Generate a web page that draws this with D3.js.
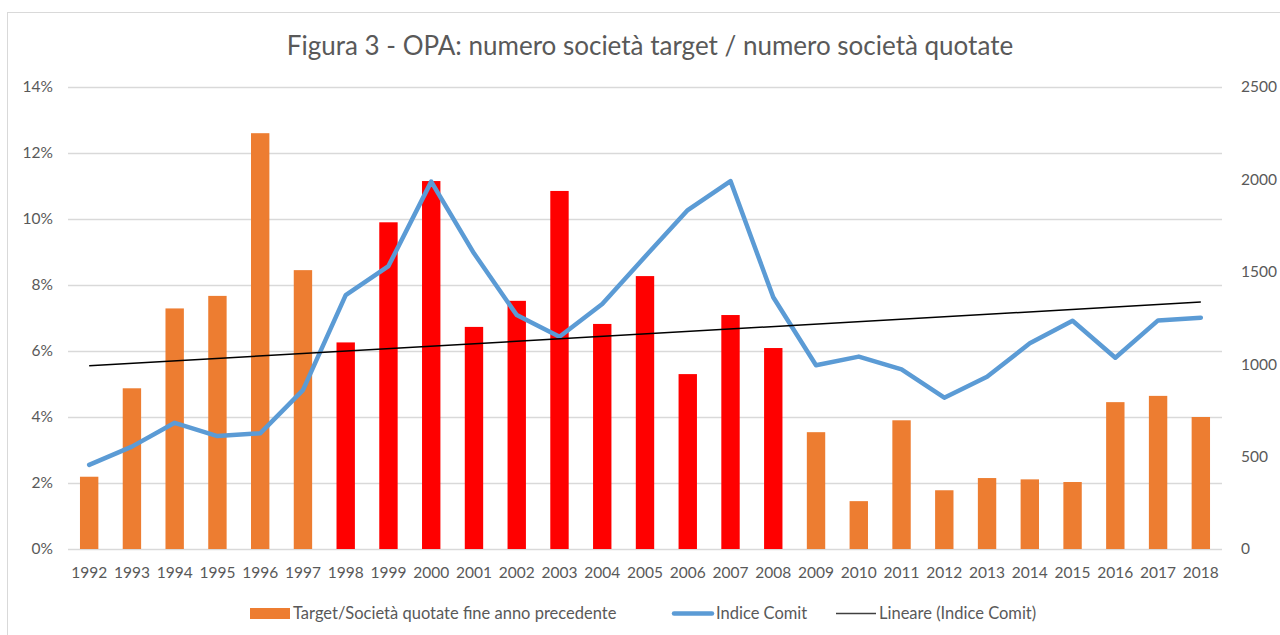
<!DOCTYPE html>
<html>
    <head>
        <meta charset="utf-8" />
        <script src="https://d3js.org/d3.v7.min.js"></script>
        <style>
            body { margin: 0; background: #fff; }
            svg { font-family: Lato, "Open Sans", sans-serif; }
        </style>
    </head>
    <body>
        <svg class="chart" width="1280" height="635"></svg>
        <script>
            const years = ['1992', '1993', '1994', '1995', '1996', '1997', '1998', '1999', '2000',
                '2001', '2002', '2003', '2004', '2005', '2006', '2007', '2008', '2009', '2010',
                '2011', '2012', '2013', '2014', '2015', '2016', '2017', '2018']
            // quota società target (%)
            const targetRatio = [2.19, 4.87, 7.29, 7.67, 12.6, 8.45, 6.26, 9.9, 11.15, 6.73, 7.52,
                10.85, 6.82, 8.27, 5.3, 7.09, 6.09, 3.54, 1.45, 3.9, 1.78, 2.15, 2.11, 2.03, 4.45,
                4.64, 4.0]
            const indiceComit = [455, 554, 683, 611, 626, 860, 1374, 1531, 1988, 1600, 1266, 1149,
                1326, 1582, 1834, 1991, 1362, 994, 1041, 972, 819, 932, 1113, 1235, 1035, 1237, 1252]
            const redYears = ['1998', '1999', '2000', '2001', '2002', '2003', '2004', '2005',
                '2006', '2007', '2008']
            const leftTicks = [0, 2, 4, 6, 8, 10, 12, 14]
            const rightTicks = [0, 500, 1000, 1500, 2000, 2500]

            const svg = d3.select('svg.chart')
            const plotL = 68, plotR = 1222, plotT = 87, plotB = 549

            svg.append('rect')
                .attr('x', 7.5).attr('y', 12.5)
                .attr('width', 1300).attr('height', 700)
                .style('fill', 'none').style('stroke', '#d9d9d9')

            svg.append('text')
                .attr('x', 650).attr('y', 55)
                .attr('text-anchor', 'middle')
                .style('font-size', '26px').style('fill', '#595959')
                .text('Figura 3 - OPA: numero società target / numero società quotate')

            const x = d3.scaleBand().domain(years).range([plotL, plotR]).paddingInner(0.57).paddingOuter(0.28)
            const yL = d3.scaleLinear().domain([0, 14]).range([plotB, plotT])
            const yR = d3.scaleLinear().domain([0, 2500]).range([plotB, plotT])

            // griglia
            svg.append('g').selectAll('line')
                .data(leftTicks)
                .enter()
                .append('line')
                .attr('x1', plotL).attr('x2', plotR)
                .attr('y1', (d) => yL(d) + 0.5).attr('y2', (d) => yL(d) + 0.5)
                .style('stroke', '#d9d9d9').style('stroke-width', '1.3px')

            const axisL = svg.append('g')
                .attr('transform', `translate(${plotL - 15},0)`)
                .call(d3.axisLeft(yL).tickValues(leftTicks).tickFormat((d) => d + '%').tickSize(0))
            const axisR = svg.append('g')
                .attr('transform', `translate(${plotR + 19},0)`)
                .call(d3.axisRight(yR).tickValues(rightTicks).tickFormat(d3.format('d')).tickSize(0))
            const axisB = svg.append('g')
                .attr('transform', `translate(0,${plotB + 15})`)
                .call(d3.axisBottom(x).tickSize(0))
            for (const a of [axisL, axisR, axisB]) {
                a.select('.domain').remove()
                a.selectAll('text').style('font-size', '15.5px').style('fill', '#595959')
                    .style('font-family', 'Lato, "Open Sans", sans-serif')
            }
            axisL.selectAll('text').attr('x', 0)
            axisR.selectAll('text').attr('x', 0)

            // barre
            svg.append('g').selectAll('rect')
                .data(years)
                .enter()
                .append('rect')
                .attr('x', (d) => x(d))
                .attr('width', x.bandwidth())
                .attr('y', (d, i) => yL(targetRatio[i]))
                .attr('height', (d, i) => plotB - yL(targetRatio[i]))
                .style('fill', (d) => redYears.includes(d) ? '#ff0000' : '#ed7d31')

            // linea indice
            const cx = (d) => x(d) + x.bandwidth() / 2
            const line = d3.line().x((d, i) => cx(years[i])).y((d) => yR(d))
            svg.append('path')
                .datum(indiceComit)
                .attr('d', line)
                .style('fill', 'none')
                .style('stroke', '#5b9bd5')
                .style('stroke-width', '4.5px')
                .style('stroke-linejoin', 'round')
                .style('stroke-linecap', 'round')

            // tendenza lineare
            const n = indiceComit.length
            const mx = d3.mean(indiceComit, (d, i) => i + 1)
            const my = d3.mean(indiceComit)
            const slope = d3.sum(indiceComit, (d, i) => (i + 1 - mx) * (d - my)) /
                d3.sum(indiceComit, (d, i) => (i + 1 - mx) ** 2)
            const icpt = my - slope * mx
            svg.append('line')
                .attr('x1', cx(years[0])).attr('y1', yR(icpt + slope))
                .attr('x2', cx(years[n - 1])).attr('y2', yR(icpt + slope * n))
                .style('stroke', '#000').style('stroke-width', '1.5px')

            // legenda
            const leg = svg.append('g').style('font-size', '16.5px')
            leg.append('rect').attr('x', 250).attr('y', 608).attr('width', 40).attr('height', 11)
                .style('fill', '#ed7d31')
            leg.append('text').attr('x', 293).attr('y', 619).style('fill', '#595959')
                .text('Target/Società quotate fine anno precedente')
            leg.append('line').attr('x1', 674).attr('x2', 712).attr('y1', 613.5).attr('y2', 613.5)
                .style('stroke', '#5b9bd5').style('stroke-width', '4.5px').style('stroke-linecap', 'round')
            leg.append('text').attr('x', 716).attr('y', 619).style('fill', '#595959').text('Indice Comit')
            leg.append('line').attr('x1', 836).attr('x2', 876).attr('y1', 613.5).attr('y2', 613.5)
                .style('stroke', '#404040').style('stroke-width', '1.5px')
            leg.append('text').attr('x', 879).attr('y', 619).style('fill', '#595959')
                .text('Lineare (Indice Comit)')
        </script>
    </body>
</html>
